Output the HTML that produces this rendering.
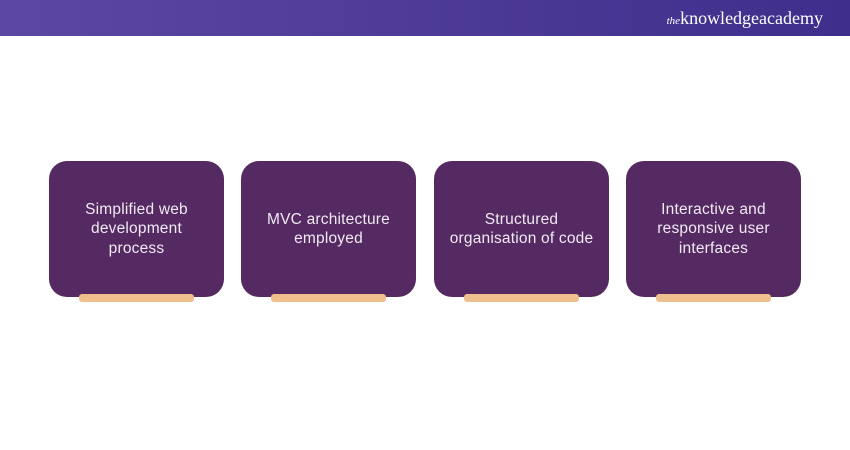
<!DOCTYPE html>
<html><head><style>
body{margin:0;width:850px;height:450px;background:#fff;position:relative;overflow:hidden;font-family:"Liberation Sans",sans-serif}
.hd{position:absolute;left:0;top:0;width:850px;height:36px;background:linear-gradient(90deg,#5b48a3,#3f2e8b)}
.hd span{position:absolute;right:27px;top:8px;color:#fff;font-family:"Liberation Serif",serif;font-size:18px}
.hd i{font-size:11px}
.b{position:absolute;top:161px;width:175px;height:136px;background:#552a62;border-radius:18px;color:#f1e9f3;font-size:15.5px;letter-spacing:0.2px;line-height:19.5px;display:flex;align-items:center;justify-content:center;text-align:center}
.bar{position:absolute;top:294px;width:115px;height:8px;background:#efbf8d;border-radius:3px}
</style></head><body>
<div class="hd"><span><i>the</i>knowledgeacademy</span></div>
<div class="b" style="left:49px">Simplified web<br>development<br>process</div><div class="bar" style="left:79px"></div>
<div class="b" style="left:241px">MVC architecture<br>employed</div><div class="bar" style="left:271px"></div>
<div class="b" style="left:434px">Structured<br>organisation of code</div><div class="bar" style="left:464px"></div>
<div class="b" style="left:626px">Interactive and<br>responsive user<br>interfaces</div><div class="bar" style="left:656px"></div>
</body></html>
